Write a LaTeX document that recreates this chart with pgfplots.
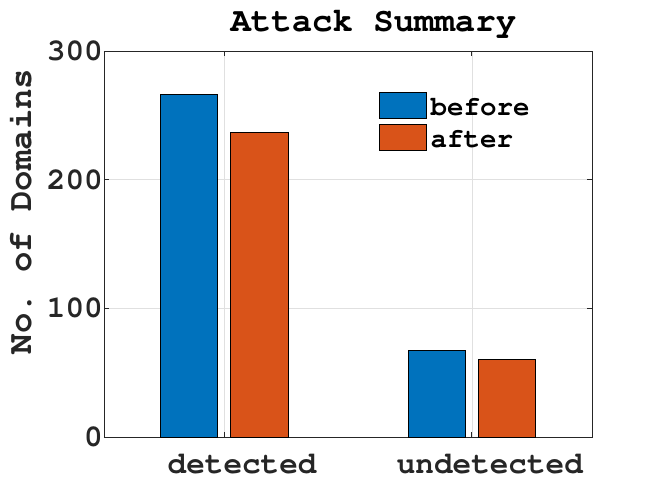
\documentclass[border=0pt]{standalone}
\usepackage[T1]{fontenc}
\usepackage{courier}
\renewcommand{\familydefault}{\ttdefault}
\usepackage{pgfplots}
\pgfplotsset{compat=1.18}
\definecolor{mblue}{rgb}{0,0.447,0.741}
\definecolor{morange}{rgb}{0.850,0.325,0.098}
\definecolor{axgray}{rgb}{0.15,0.15,0.15}
\definecolor{gridgray}{rgb}{0.88,0.88,0.88}
\pgfplotsset{
  boxlegend/.style={legend image code/.code={
      \draw[##1, line width=0.7pt] (0pt,-10pt) rectangle (47pt,16pt);}},
}
\frenchspacing
\begin{document}
\begin{tikzpicture}
\path[use as bounding box] (-104pt,-54pt) rectangle (550pt,437pt);
\begin{axis}[
  at={(0pt,0pt)}, anchor=south west,
  scale only axis, width=488pt, height=386pt,
  xmin=0.515, xmax=2.485, ymin=0, ymax=300,
  xtick={1,2}, xticklabels={detected,undetected},
  ytick={0,100,200,300},
  ybar=13.1pt, bar width=57.3pt,
  tick align=inside, major tick length=5pt,
  tick style={axgray, line width=0.8pt},
  axis line style={axgray, line width=0.8pt},
  grid=major, major grid style={gridgray, line width=0.7pt},
  /pgf/number format/assume math mode=true,
  ticklabel style={font=\fontsize{31}{31}\selectfont\bfseries, text=axgray},
  xticklabel style={anchor=base, yshift=-36pt, xshift=18pt, inner sep=0pt},
  yticklabel style={anchor=east, inner sep=0pt, xshift=-1pt},
  title={Attack Summary},
  title style={at={(axis description cs:0.552,1)}, anchor=base, yshift=13pt,
    inner sep=0pt, font=\fontsize{34}{34}\selectfont\bfseries},
  ylabel={No.\ of Domains},
  ylabel style={at={(axis description cs:-0.172,0.584)}, anchor=center,
    inner sep=0pt, text=axgray, font=\fontsize{34}{34}\selectfont\bfseries},
  legend style={at={(axis description cs:0.5635,0.8938)}, anchor=north west,
    draw=none, fill=none, inner sep=0pt, outer sep=0pt,
    font=\fontsize{27.5}{27.5}\selectfont\bfseries,
    row sep=3pt, column sep=4pt,
    nodes={inner sep=0pt, text height=20pt, text depth=6pt}},
  legend cell align=left,
]
\addplot[fill=mblue, draw=black, line width=0.7pt, boxlegend]
  coordinates {(1,266) (2,67)};
\addplot[fill=morange, draw=black, line width=0.7pt, boxlegend]
  coordinates {(1,237) (2,60)};
\legend{before, after}
\end{axis}
\end{tikzpicture}
\end{document}
